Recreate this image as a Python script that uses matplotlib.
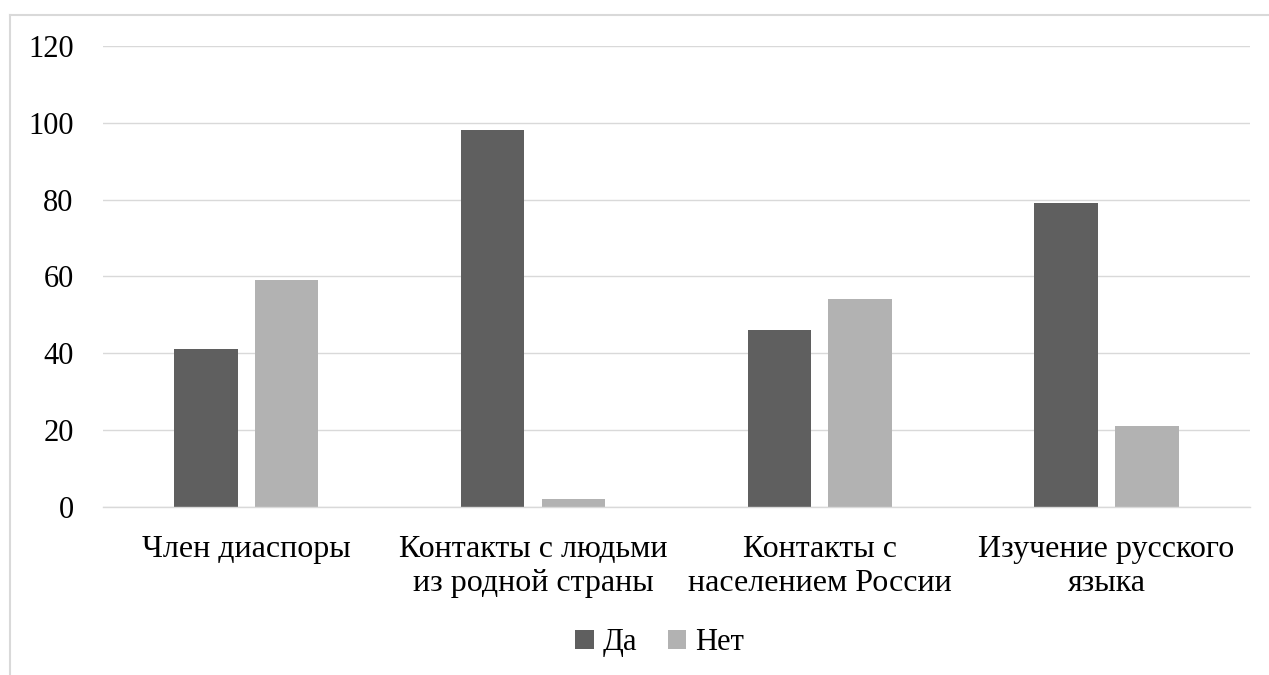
import matplotlib
matplotlib.use("Agg")
import matplotlib.pyplot as plt
from matplotlib.lines import Line2D
import numpy as np

plt.rcParams['font.family'] = ['Liberation Serif', 'DejaVu Serif']

categories = ['Член диаспоры', 'Контакты с людьми\nиз родной страны',
              'Контакты с\nнаселением России', 'Изучение русского\nязыка']
da = [41, 98, 46, 79]
net = [59, 2, 54, 21]
yticks = [0, 20, 40, 60, 80, 100, 120]

fig = plt.figure(figsize=(12.69, 6.75), dpi=100)
ax = fig.add_axes([0.081, 0.249, 0.904, 0.683])

x = np.arange(len(categories))
w = 0.222
gap = 0.06
ax.bar(x - (w + gap) / 2, da, w, color='#5f5f5f', label='Да')
ax.bar(x + (w + gap) / 2, net, w, color='#b2b2b2', label='Нет')

ax.set_xlim(-0.5, len(categories) - 0.5)
ax.set_ylim(0, 120)
ax.set_yticks(yticks)
ax.set_xticks(x)
ax.set_xticklabels(categories, fontsize=23, linespacing=1.25)
ax.tick_params(axis='y', labelsize=22, length=0, pad=21)
ax.tick_params(axis='x', length=0, pad=20)
ax.yaxis.grid(True, color='#d9d9d9', linewidth=1)
ax.set_axisbelow(True)
for s in ['top', 'right', 'left']:
    ax.spines[s].set_visible(False)
ax.spines['bottom'].set_color('#d9d9d9')
ax.spines['bottom'].set_linewidth(1)

fig.legend(loc='center', bbox_to_anchor=(0.52, 0.048), ncol=2, frameon=False,
           fontsize=22, handlelength=0.6, handleheight=0.6, handletextpad=0.3,
           columnspacing=1.0)

# outer chart border (only top and left visible in the crop)
fig.add_artist(Line2D([10 / 1269, 10 / 1269], [0, 1 - 15 / 675],
                      transform=fig.transFigure, color='#d9d9d9', linewidth=1.5))
fig.add_artist(Line2D([10 / 1269, 1], [1 - 15 / 675, 1 - 15 / 675],
                      transform=fig.transFigure, color='#d9d9d9', linewidth=1.5))

fig.savefig('out.png', dpi=100)
